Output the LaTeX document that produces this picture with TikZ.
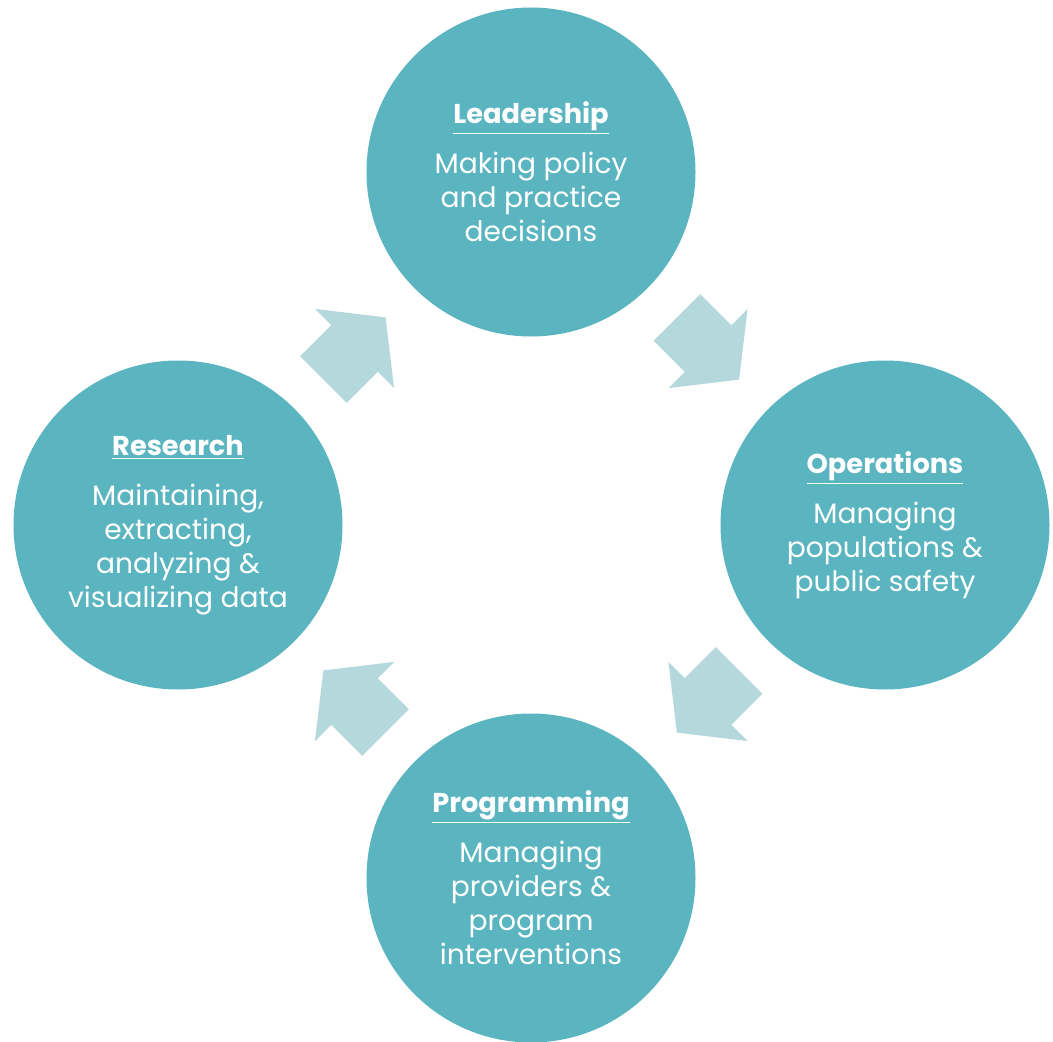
\documentclass[tikz,border=0pt]{standalone}
\usepackage{fontspec}
\setmainfont{Poppins}
\usetikzlibrary{calc}
\definecolor{circteal}{HTML}{5AB5C0}
\definecolor{arrteal}{HTML}{B5D8DD}
\tikzset{
  stage/.style={circle,fill=circteal,minimum size=6.58cm,inner sep=0pt,
    text=white,align=center,font=\fontsize{16}{19.4}\selectfont},
  pics/cyclearrow/.style={code={
    \fill[arrteal] (-44,-33) -- (0,-33) -- (0,-56) -- (44,0) -- (0,56) -- (0,33) -- (-44,33) -- cycle;
  }}
}
\newcommand{\stagetitle}[1]{{\fontsize{15.5}{19.4}\selectfont\underline{\textbf{#1}}}\\[9pt]}
\begin{document}
\begin{tikzpicture}[x=0.2mm,y=0.2mm]
    \useasboundingbox (0,0) rectangle (1053,-1042);
    \node[stage] (lead) at (531,-172) {\stagetitle{Leadership}Making policy\\and practice\\decisions};
    \node[stage] (oper) at (885,-525) {\stagetitle{Operations}Managing\\populations \&\\public safety};
    \node[stage] (prog) at (531,-878) {\stagetitle{Programming}Managing\\providers \&\\program\\interventions};
    \node[stage] (res) at (178,-525) {\stagetitle{Research}Maintaining,\\extracting,\\analyzing \&\\visualizing data};
    \pic[rotate=-45] (a1) at ($(lead)!0.5!(oper)$) {cyclearrow};
    \pic[rotate=-135] (a2) at ($(oper)!0.5!(prog)$) {cyclearrow};
    \pic[rotate=135] (a3) at ($(prog)!0.5!(res)$) {cyclearrow};
    \pic[rotate=45] (a4) at ($(res)!0.5!(lead)$) {cyclearrow};
\end{tikzpicture}
\end{document}
